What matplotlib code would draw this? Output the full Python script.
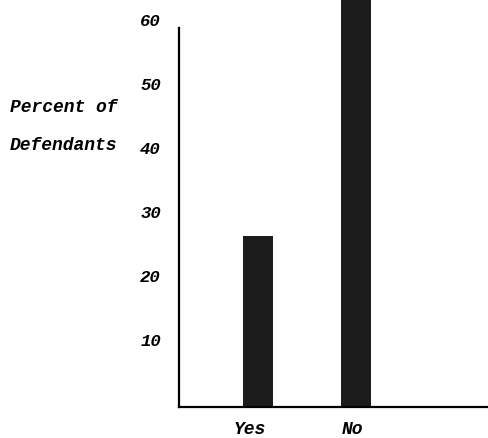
import matplotlib
matplotlib.use("Agg")
import matplotlib.pyplot as plt
from matplotlib.transforms import ScaledTranslation

# data
answers = ["Yes", "No"]
percent = [26.7, 73.0]
yticks = [10, 20, 30, 40, 50, 60]

fig = plt.figure(figsize=(4.89, 4.38), dpi=100)
ax = fig.add_axes([179 / 489, 31 / 438, 310 / 489, 407 / 438])

pos = [1, 2]
ax.bar(pos, percent, width=0.31, color="#1c1c1c", zorder=2)

ax.set_xlim(0.194, 3.357)
ax.set_ylim(0, 63.6)

for s in ["top", "right"]:
    ax.spines[s].set_visible(False)
ax.spines["left"].set_bounds(0, 59.2)
ax.spines["left"].set_linewidth(1.6)
ax.spines["bottom"].set_linewidth(1.6)

font = dict(family="Liberation Mono", weight="bold", style="italic")

ax.set_yticks(yticks)
ax.set_yticklabels([str(t) for t in yticks], fontsize=12.5, **font)
ax.tick_params(axis="y", length=0, pad=13)
for lab in ax.get_yticklabels():
    lab.set_transform(lab.get_transform() + ScaledTranslation(0, 0.035, fig.dpi_scale_trans))

ax.set_xticks(pos)
ax.set_xticklabels(answers, fontsize=13, **font)
ax.tick_params(axis="x", length=0, pad=10)
for lab, dx in zip(ax.get_xticklabels(), [-0.08, -0.04]):
    lab.set_transform(lab.get_transform() + ScaledTranslation(dx, 0, fig.dpi_scale_trans))

fig.text(10 / 489, 1 - 108 / 438, "Percent of", fontsize=13, va="center", ha="left", **font)
fig.text(10 / 489, 1 - 146 / 438, "Defendants", fontsize=13, va="center", ha="left", **font)

fig.savefig("out.png", dpi=100)
